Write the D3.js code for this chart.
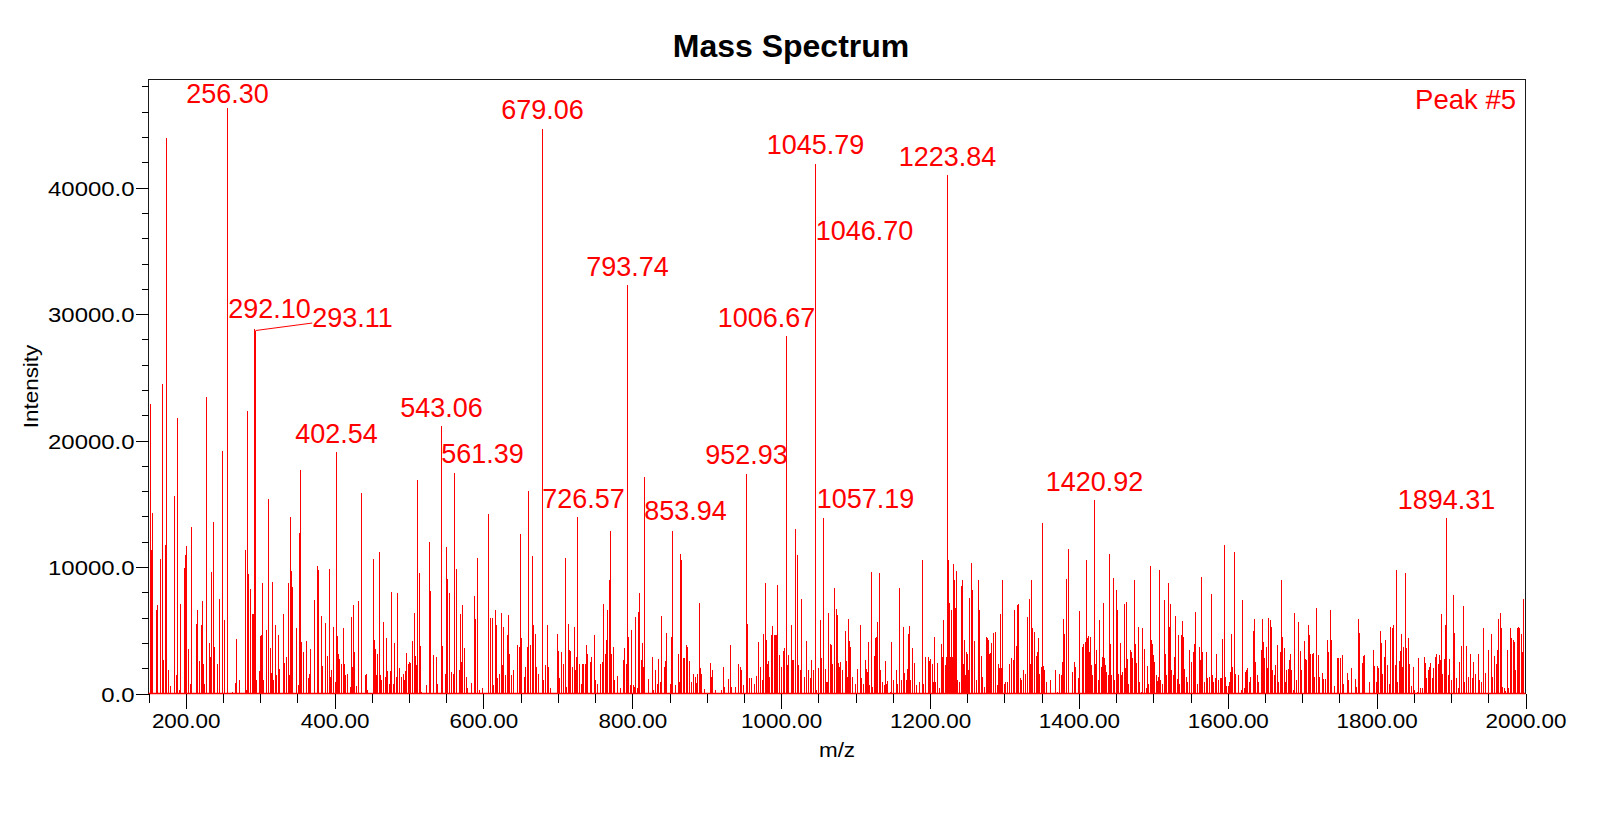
<!DOCTYPE html>
<html><head><meta charset="utf-8">
<script src="https://cdn.jsdelivr.net/npm/d3@7"></script>
<style>
html,body{margin:0;padding:0;background:#fff;}
svg{display:block;font-family:"Liberation Sans",Arial,sans-serif;}
</style></head><body>
<svg id="chart" width="1600" height="814"></svg>
<script>
// ---------- text ----------
const chartTitle = "Mass Spectrum";
const xTitle = "m/z";
const yTitle = "Intensity";
const cornerNote = "Peak #5";

// ---------- axes ----------
const xDomain = [150, 2000];
const yDomain = [0, 48550];
const xMajorTicks = [200, 400, 600, 800, 1000, 1200, 1400, 1600, 1800, 2000];
const xMinorTicks = [150,250,300,350,450,500,550,650,700,750,850,900,950,1050,1100,1150,1250,1300,1350,1450,1500,1550,1650,1700,1750,1850,1900,1950];
const yMajorTicks = [0, 10000, 20000, 30000, 40000];
const yMinorTicks = [2000,4000,6000,8000,12000,14000,16000,18000,22000,24000,26000,28000,32000,34000,36000,38000,42000,44000,46000,48000];

// ---------- peaks [m/z, intensity] ----------
const peaks150to460 = [[152.3,22870],[153.7,10670],[154.6,11330],[155.4,14280],[160.4,6640],[161.7,6960],[165.7,10670],[166.6,4350],[169.3,24510],[170.2,2640],[173.4,11730],[174.3,43900],[176.9,1840],[180.1,580],[184.6,1580],[185.4,15600],[187.7,1450],[189.5,21790],[192.2,260],[193.1,7110],[198.4,9930],[199.8,10940],[201.6,11650],[204.2,3480],[206.9,790],[207.4,13180],[215.0,5530],[215.9,6640],[218.6,2560],[221.7,5380],[222.6,7300],[224.0,2370],[225.7,790],[227.5,1240],[228.4,23450],[232.0,4010],[232.9,2900],[234.7,9590],[236.9,13570],[239.2,3690],[243.2,2320],[245.0,7460],[249.5,19210],[249.9,8910],[252.6,5820],[256.30,46300],[262.9,130],[267.4,840],[268.7,4320],[272.3,1050],[279.9,10010],[280.4,11330],[281.3,260],[282.6,22370],[284.0,9410],[287.1,8300],[289.8,6270],[290.7,6250],[292.10,28800],[293.11,28700],[294.7,1050],[299.2,1770],[300.5,4530],[302.3,4610],[303.2,8750],[304.5,1050],[308.6,5010],[311.3,15390],[313.9,3610],[315.7,1630],[317.1,8830],[318.0,1050],[320.7,5450],[322.4,1450],[324.2,4610],[325.6,1900],[331.4,6320],[332.7,2420],[335.4,2900],[338.1,8700],[339.9,1450],[341.2,13970],[342.6,9670],[343.5,8430],[348.9,5140],[351.1,660],[352.9,12730],[354.2,17710],[355.6,4080],[358.3,3290],[361.8,4160],[365.4,1190],[366.8,1580],[368.1,3480],[373.0,7380],[377.1,10090],[378.4,9800],[382.9,6110],[383.8,2190],[387.4,5590],[390.9,2950],[393.6,9880],[394.5,1320],[396.3,1840],[398.6,5270],[400.8,920],[402.54,19100],[404.4,4530],[405.7,3110],[407.1,2690],[408.8,2370],[412.0,5140],[413.3,2370],[415.1,1450],[417.4,1530],[420.9,530],[423.2,6010],[424.5,2110],[425.9,6960],[427.2,3290],[429.4,580],[432.1,7300],[435.7,15860],[441.1,1450],[443.3,1580],[444.7,260],[452.3,10670],[453.6,4220],[455.4,3480],[456.8,1450],[457.6,3160],[460.3,11150]];

const peaks460to770 = [[461.7,1450],[463.5,1050],[466.1,5670],[467.9,1320],[470.2,4350],[471.5,1770],[474.2,790],[475.1,1770],[476.0,8040],[479.1,790],[480.5,4010],[482.7,1320],[484.0,4140],[484.9,7910],[487.2,1980],[489.4,1320],[492.1,1580],[493.9,1050],[495.7,1770],[497.0,3210],[498.8,2370],[500.6,2500],[502.4,2420],[505.1,4140],[506.9,6380],[508.7,2950],[510.5,2240],[511.8,16920],[514.0,9540],[515.8,3770],[517.2,130],[523.9,660],[527.5,11990],[528.8,8090],[532.8,3030],[536.9,2900],[538.2,790],[543.06,21160],[545.4,3740],[549.0,1580],[550.8,11590],[552.1,9090],[554.3,7960],[556.6,1710],[559.3,1580],[561.39,17440],[563.3,9880],[567.3,1840],[569.1,6320],[570.5,2500],[572.2,6960],[574.0,3560],[576.7,1320],[578.5,450],[583.4,840],[588.4,7690],[589.3,5930],[591.9,10750],[594.6,260],[599.1,400],[606.7,14230],[609.4,5980],[612.1,5980],[613.4,660],[616.6,6640],[617.5,5400],[619.3,1190],[621.5,1580],[624.6,6400],[625.5,2240],[627.3,5270],[629.1,1450],[632.2,4610],[634.0,6170],[635.4,3160],[638.1,1450],[639.8,1840],[646.1,3820],[647.9,3690],[650.1,12600],[651.5,4350],[654.6,1320],[656.9,2110],[658.6,3690],[660.9,15990],[662.7,3820],[665.8,10880],[667.2,5400],[669.4,4740],[670.7,2060],[673.9,1580],[679.06,44600],[680.1,1050],[683.7,2240],[685.5,5450],[687.3,2110],[689.5,400],[699.0,4740],[700.3,3370],[701.6,1190],[704.3,3290],[707.9,2370],[709.7,10720],[711.0,530],[714.2,5530],[715.1,3430],[716.4,3370],[719.1,2110],[721.8,5220],[723.6,1840],[724.9,2900],[726.57,13970],[728.9,2370],[731.2,740],[732.5,2370],[734.3,2370],[736.6,2320],[738.3,3870],[740.1,3160],[743.3,2500],[745.1,2900],[748.6,4660],[750.0,1050],[753.6,790],[756.7,2320],[759.8,2500],[761.6,7040],[763.4,3160],[764.8,4220],[766.5,6590],[768.8,8960]];

const peaks770to1080 = [[770.6,12860],[771.5,3160],[775.0,3690],[776.4,1050],[780.4,1370],[783.5,400],[788.0,2640],[789.4,3560],[791.6,2370],[793.74,32340],[794.7,4480],[797.0,660],[798.8,5060],[801.5,710],[802.8,530],[804.1,6060],[806.4,400],[808.2,6460],[810.0,7910],[811.8,2640],[813.5,4010],[815.3,2110],[816.2,17130],[821.6,1130],[827.0,2900],[828.8,260],[830.6,1840],[833.2,790],[835.0,2710],[837.7,920],[838.6,6110],[843.1,2110],[844.4,2580],[845.3,4800],[850.7,790],[852.9,4480],[853.94,12860],[857.4,660],[861.9,3110],[863.2,900],[864.6,11070],[865.9,10540],[868.2,2820],[870.0,2770],[873.1,3870],[874.4,3690],[876.7,2560],[878.9,920],[882.5,1580],[884.3,1320],[886.1,840],[887.9,1580],[890.1,7170],[891.4,1980],[892.8,1580],[896.8,320],[904.9,2420],[905.8,1320],[908.0,1840],[911.1,260],[919.2,260],[922.3,2110],[923.7,530],[929.0,1130],[932.2,3820],[933.5,530],[938.9,530],[942.5,2370],[944.7,2110],[946.1,1840],[949.2,660],[952.93,17340],[954.6,5530],[957.3,1240],[960.4,1240],[963.5,790],[966.2,1400],[969.3,4080],[970.2,3820],[972.0,2110],[974.7,1050],[976.5,4740],[978.3,8750],[980.1,4220],[981.9,2370],[983.2,2580],[984.6,1320],[986.8,4660],[988.1,5350],[990.4,4660],[992.6,4660],[994.0,4610],[995.3,8560],[997.1,3030],[999.8,2110],[1003.4,3350],[1004.7,3610],[1006.67,28230],[1007.5,12730],[1008.7,2240],[1010.5,3080],[1013.2,5400],[1015.0,2640],[1017.2,2640],[1019.5,13040],[1022.2,10940],[1023.5,2240],[1025.3,1840],[1027.5,7510],[1031.1,1320],[1034.3,4140],[1036.5,1840],[1039.2,1240],[1041.0,2640],[1043.7,1840],[1045.79,41860],[1046.70,35240],[1047.6,260],[1050.4,1980],[1052.2,5800],[1054.4,2770],[1056.2,3820],[1057.19,13890],[1059.8,1900],[1061.1,920],[1062.5,920],[1063.8,6380],[1065.6,3950],[1067.8,3870],[1069.6,2370],[1071.4,8350],[1072.3,7770],[1074.1,6720],[1075.4,6220],[1076.8,2450],[1078.1,2110]];

const peaks1080to1390 = [[1079.1,2500],[1081.8,1840],[1086.3,4950],[1088.1,2580],[1089.4,1320],[1090.8,5930],[1092.1,4140],[1093.4,3690],[1095.2,1320],[1099.3,740],[1102.8,1900],[1106.9,5380],[1108.2,1240],[1110.0,740],[1113.1,2640],[1114.5,1900],[1115.8,1710],[1117.6,4080],[1119.0,660],[1121.2,9570],[1123.0,530],[1125.2,2950],[1126.6,4400],[1127.9,4480],[1129.7,5640],[1132.4,9490],[1133.7,1840],[1136.4,920],[1138.2,660],[1140.5,2560],[1141.8,790],[1143.1,1000],[1146.3,130],[1148.5,4080],[1150.3,1050],[1154.8,1840],[1156.6,790],[1159.3,8380],[1161.5,1050],[1163.7,5270],[1165.5,1630],[1167.8,1050],[1169.1,1900],[1170.4,4740],[1171.8,5320],[1173.6,1050],[1176.7,3560],[1179.0,2420],[1181.2,660],[1186.1,920],[1190.1,10540],[1191.5,740],[1193.3,2900],[1197.8,2900],[1199.1,2560],[1200.9,2690],[1203.1,2370],[1204.9,920],[1206.3,4480],[1207.6,920],[1210.3,2420],[1212.5,400],[1215.2,3950],[1216.6,2850],[1218.4,5850],[1220.1,2240],[1221.9,2900],[1223.84,40970],[1224.6,10540],[1225.5,7170],[1227.3,2900],[1229.1,6590],[1230.0,2900],[1231.3,10220],[1232.7,8960],[1234.0,6800],[1235.4,9670],[1236.7,1050],[1239.8,920],[1242.1,8480],[1243.4,9010],[1244.8,2370],[1246.1,4220],[1247.5,1450],[1248.8,3290],[1250.1,3160],[1251.9,1840],[1253.3,7590],[1255.1,10280],[1256.4,8170],[1257.7,5320],[1259.1,4160],[1260.4,1980],[1262.7,1050],[1264.5,8960],[1265.8,6590],[1267.1,3820],[1268.5,2950],[1270.7,1320],[1273.0,530],[1276.1,4480],[1277.4,4350],[1278.8,4220],[1280.1,3160],[1281.5,3210],[1282.8,4030],[1284.6,4800],[1285.8,4220],[1287.3,660],[1288.6,4870],[1290.0,710],[1291.8,2370],[1293.1,1980],[1294.9,6320],[1296.3,1980],[1298.0,8960],[1299.4,790],[1301.6,920],[1304.3,920],[1306.1,2370],[1307.4,2240],[1309.7,2820],[1311.5,2640],[1313.3,6590],[1315.5,3740],[1317.7,6980],[1319.1,7110],[1321.3,1190],[1323.1,1050],[1325.8,1840],[1327.6,1580],[1330.3,6060],[1331.6,4800],[1333.0,7510],[1334.3,2370],[1336.5,8960],[1337.9,5140],[1339.7,4870],[1341.0,790],[1343.3,2950],[1344.6,3290],[1345.9,4400],[1347.3,1580],[1350.0,2110],[1351.3,13490],[1352.7,2160],[1354.0,1840],[1355.8,920],[1362.5,1050],[1368.8,1840],[1370.6,130],[1374.6,1580],[1376.8,1450],[1378.2,2500],[1379.5,5930],[1381.3,4740],[1383.6,9090],[1385.8,11460]];

const peaks1390to1695 = [[1391.1,1710],[1393.8,2500],[1395.2,2110],[1400.1,1240],[1401.4,6510],[1404.6,3690],[1406.4,3950],[1408.2,4080],[1410.0,10540],[1410.9,4350],[1412.6,4530],[1414.0,3290],[1415.8,4480],[1417.1,2240],[1418.9,1450],[1420.92,15280],[1422.0,2370],[1423.8,3430],[1426.1,1050],[1427.4,5850],[1429.7,2110],[1431.4,2900],[1432.8,7170],[1434.1,2770],[1435.5,2240],[1437.3,1710],[1439.5,1450],[1441.3,11010],[1442.6,3950],[1444.0,1450],[1446.2,9140],[1448.0,1050],[1450.7,8170],[1452.0,6590],[1453.4,1580],[1455.6,4030],[1457.4,1450],[1458.8,1710],[1461.0,7060],[1462.3,1980],[1464.1,7250],[1465.5,2710],[1467.3,740],[1469.1,3430],[1470.8,3290],[1472.6,2770],[1474.9,8960],[1476.2,3950],[1478.0,2420],[1480.2,5270],[1482.0,920],[1484.3,130],[1486.1,5140],[1488.3,3480],[1490.5,400],[1492.3,2160],[1494.1,790],[1495.9,10070],[1497.3,4220],[1498.6,3950],[1499.9,3030],[1502.2,2500],[1504.0,1450],[1505.8,1000],[1507.1,1320],[1508.9,9750],[1510.2,1050],[1512.9,740],[1514.7,7430],[1516.1,3160],[1517.8,1450],[1520.1,8750],[1521.4,5270],[1523.2,7110],[1524.6,1840],[1526.8,1450],[1529.0,2900],[1530.4,6110],[1532.2,1110],[1534.0,4610],[1535.8,790],[1537.5,4610],[1538.9,5720],[1540.7,4480],[1542.5,1900],[1544.7,1320],[1546.5,920],[1549.2,3430],[1551.4,2500],[1554.1,3290],[1555.9,3950],[1557.2,6460],[1559.0,740],[1562.2,3690],[1563.5,2640],[1564.9,9220],[1566.6,3290],[1569.3,920],[1571.1,3290],[1572.9,1240],[1576.0,1320],[1578.3,7850],[1579.6,1450],[1581.4,920],[1583.2,1240],[1585.5,3160],[1587.2,1050],[1589.9,1190],[1591.7,1190],[1593.5,4270],[1595.3,11730],[1597.1,1320],[1598.4,580],[1600.7,580],[1602.5,920],[1603.8,1710],[1605.2,4740],[1606.5,2110],[1608.7,11200],[1610.5,1580],[1614.1,1450],[1618.6,260],[1620.4,7380],[1622.2,400],[1623.5,1710],[1625.3,1840],[1627.1,1980],[1628.9,920],[1631.1,1320],[1634.3,4950],[1635.6,5930],[1637.4,2500],[1640.1,1450],[1641.9,920],[1645.4,3430],[1646.8,5930],[1648.6,4080],[1649.9,2770],[1651.7,3690],[1653.5,2030],[1655.3,5980],[1657.5,5850],[1658.9,5270],[1660.7,1840],[1662.5,1450],[1664.7,2240],[1666.9,3820],[1668.7,920],[1670.5,3290],[1672.3,9010],[1674.1,4480],[1675.9,3560],[1677.7,920],[1679.5,1840],[1681.3,1900],[1683.1,2640],[1684.8,3160],[1686.2,1840],[1688.4,260],[1690.2,6380],[1692.0,1050],[1694.7,5670]];

const peaks1695to2000 = [[1698.3,3370],[1699.6,1840],[1702.7,4140],[1704.5,2690],[1706.3,2640],[1708.1,5450],[1709.5,4610],[1711.2,3110],[1713.5,3110],[1715.7,3210],[1717.1,1320],[1719.7,6800],[1721.5,3030],[1723.8,1320],[1726.9,1660],[1728.7,1110],[1731.0,1130],[1733.6,4220],[1735.4,3290],[1737.7,6590],[1739.0,4220],[1743.9,580],[1747.5,2820],[1748.8,2770],[1751.5,2770],[1753.8,3030],[1756.0,790],[1760.5,1660],[1762.3,1050],[1765.9,1980],[1771.7,1110],[1773.5,530],[1775.3,5930],[1777.5,4800],[1781.1,2420],[1782.9,2950],[1784.2,3080],[1791.0,920],[1795.4,3430],[1797.7,2160],[1799.4,920],[1801.2,2160],[1803.0,1980],[1804.8,4930],[1806.6,4030],[1808.4,1580],[1810.2,2900],[1812.4,4220],[1814.7,2240],[1816.9,790],[1818.7,5220],[1820.9,5140],[1822.7,5400],[1825.4,2240],[1826.8,9750],[1828.5,920],[1830.3,2580],[1831.7,3370],[1833.5,4740],[1834.8,2110],[1836.6,3690],[1838.4,9540],[1840.2,3560],[1842.4,4350],[1844.2,2320],[1846.9,630],[1849.1,2110],[1851.4,260],[1855.0,130],[1856.7,2820],[1859.0,400],[1861.7,400],[1863.9,2900],[1865.7,2420],[1867.5,1190],[1869.3,1840],[1871.1,2110],[1872.9,2420],[1875.1,1190],[1876.9,1980],[1878.7,2850],[1880.5,3110],[1882.7,2370],[1884.5,3080],[1885.8,2640],[1887.2,6320],[1889.0,1580],[1890.8,2690],[1893.0,5400],[1894.31,13890],[1896.6,1450],[1897.9,2690],[1900.6,1050],[1902.9,7770],[1905.1,4800],[1907.3,1240],[1909.6,400],[1911.4,2500],[1914.1,3740],[1916.3,6930],[1918.5,920],[1920.8,3740],[1923.9,1320],[1926.6,3160],[1928.4,1190],[1930.6,2500],[1932.9,1580],[1936.4,3160],[1938.7,1050],[1940.9,920],[1943.2,5140],[1945.8,1660],[1949.9,3430],[1954.3,4690],[1956.1,1320],[1958.8,2950],[1960.6,2370],[1962.4,3430],[1964.2,5930],[1966.0,6380],[1967.8,5140],[1969.6,530],[1971.4,400],[1973.6,180],[1975.4,3430],[1977.2,400],[1979.9,5140],[1981.7,4350],[1983.5,4220],[1985.2,4080],[1987.0,1840],[1989.3,5140],[1991.0,5270],[1992.4,5140],[1994.2,4740],[1996.0,3290],[1997.8,7510]];

// ---------- annotated peaks ----------
const labelledMz = [256.30, 292.10, 293.11, 402.54, 543.06, 561.39, 679.06, 726.57, 793.74, 853.94, 952.93, 1006.67, 1045.79, 1046.70, 1057.19, 1223.84, 1420.92, 1894.31];
// layout only: horizontal shift of label centre (px) and gap above peak top (px)
const labelShift = [0, 15, 97, 0, 0, 28, 0, 6, 0, 13, 0, -20, 0, 49, 42, 0, 0, 0];
const labelGap   = [4.5, 11, 4, 8.5, 9, 10, 10, 8.5, 9, 10.5, 10.5, 9, 10, 8, 9.4, 9, 9.3, 8.4];
const leaderFor = [293.11];

// ---------- drawing ----------
const allPeaks = [].concat(peaks150to460, peaks460to770, peaks770to1080, peaks1080to1390, peaks1390to1695, peaks1695to2000);
const plot = {left: 148.5, right: 1525.5, top: 79.5, bottom: 693.5};
const RED = "#ff0000";
const AXFONT = 21, AXSX = 1.07, YSX = 1.14;

const svg = d3.select("#chart");
svg.append("rect").attr("width", 1600).attr("height", 814).attr("fill", "#fff");

const x = d3.scaleLinear().domain(xDomain).range([plot.left, plot.right]);
const y = d3.scaleLinear().domain(yDomain).range([plot.bottom, plot.top]);

// peaks
svg.append("g").selectAll("line").data(allPeaks).join("line")
  .attr("x1", d => Math.floor(x(d[0])) + 0.5)
  .attr("x2", d => Math.floor(x(d[0])) + 0.5)
  .attr("y1", y(0))
  .attr("y2", d => y(d[1]))
  .attr("stroke", RED).attr("stroke-width", 1)
  .attr("shape-rendering", "crispEdges");

// frame
svg.append("rect")
  .attr("x", plot.left).attr("y", plot.top)
  .attr("width", plot.right - plot.left).attr("height", plot.bottom - plot.top)
  .attr("fill", "none").attr("stroke", "#1a1a1a").attr("stroke-width", 1)
  .attr("shape-rendering", "crispEdges");
svg.append("line").attr("x1", plot.left).attr("x2", plot.right)
  .attr("y1", plot.bottom).attr("y2", plot.bottom)
  .attr("stroke", RED).attr("stroke-width", 1.5);

// x axis
const gxMinor = svg.append("g").attr("transform", `translate(0,${plot.bottom})`)
  .call(d3.axisBottom(x).tickValues(xMinorTicks).tickSize(9).tickFormat(""));
const gx = svg.append("g").attr("transform", `translate(0,${plot.bottom})`)
  .call(d3.axisBottom(x).tickValues(xMajorTicks).tickSize(15).tickFormat(d => d.toFixed(2)));
[gxMinor, gx].forEach(g => { g.select(".domain").remove(); g.selectAll("line").attr("stroke", "#000").attr("shape-rendering", "crispEdges"); });
gx.selectAll("text")
  .attr("y", 34.8).attr("dy", 0)
  .attr("font-size", AXFONT).attr("fill", "#000")
  .attr("font-family", "Liberation Sans, Arial, sans-serif")
  .attr("transform", `scale(${AXSX},1)`);

// y axis
const gyMinor = svg.append("g").attr("transform", `translate(${plot.left},0)`)
  .call(d3.axisLeft(y).tickValues(yMinorTicks).tickSize(7).tickFormat(""));
const gy = svg.append("g").attr("transform", `translate(${plot.left},0)`)
  .call(d3.axisLeft(y).tickValues(yMajorTicks).tickSize(13).tickFormat(d => d.toFixed(1)));
[gyMinor, gy].forEach(g => { g.select(".domain").remove(); g.selectAll("line").attr("stroke", "#000").attr("shape-rendering", "crispEdges"); });
gy.selectAll("text")
  .attr("x", -14 / YSX).attr("dy", "0.36em")
  .attr("font-size", AXFONT).attr("fill", "#000")
  .attr("font-family", "Liberation Sans, Arial, sans-serif")
  .attr("transform", `scale(${YSX},1)`);

// titles
svg.append("text").text(chartTitle)
  .attr("x", 791).attr("y", 57).attr("text-anchor", "middle")
  .attr("font-size", 32).attr("font-weight", "bold").attr("fill", "#000");
svg.append("text").text(xTitle)
  .attr("transform", `translate(${(plot.left + plot.right) / 2},757) scale(${AXSX},1)`)
  .attr("text-anchor", "middle").attr("font-size", AXFONT).attr("fill", "#000");
svg.append("text").text(yTitle)
  .attr("transform", `translate(38,${(plot.top + plot.bottom) / 2}) rotate(-90) scale(${AXSX},1)`)
  .attr("text-anchor", "middle").attr("font-size", AXFONT).attr("fill", "#000");
svg.append("text").text(cornerNote)
  .attr("x", 1516).attr("y", 109).attr("text-anchor", "end")
  .attr("font-size", 27.5).attr("fill", RED);

// peak labels
const lg = svg.append("g");
labelledMz.forEach((mz, i) => {
  const pk = allPeaks.find(p => p[0] === mz);
  if (!pk) return;
  const px = Math.floor(x(pk[0])) + 0.5, py = y(pk[1]);
  const cx = px + labelShift[i];
  const by = py - labelGap[i];
  const t = lg.append("text").text(mz.toFixed(2))
    .attr("x", cx).attr("y", by).attr("text-anchor", "middle")
    .attr("font-size", 27).attr("fill", RED);
  if (leaderFor.includes(mz)) {
    const w = t.node().getComputedTextLength();
    lg.append("line").attr("x1", px).attr("y1", py)
      .attr("x2", cx - w / 2).attr("y2", by - 3.5)
      .attr("stroke", RED).attr("stroke-width", 1);
  }
});
</script>
</body></html>
